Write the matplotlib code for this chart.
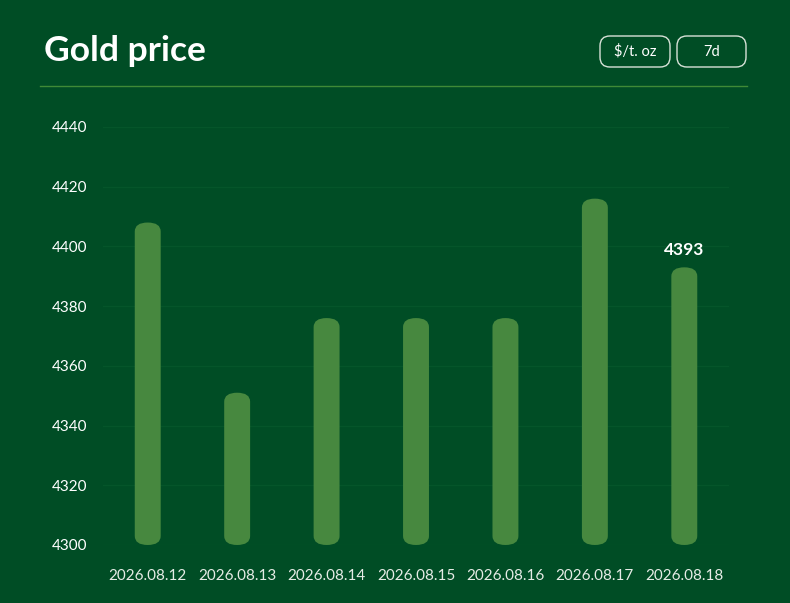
import matplotlib.pyplot as plt
from matplotlib.patches import FancyBboxPatch

# Chart data
dates = ["2026.08.12", "2026.08.13", "2026.08.14", "2026.08.15",
         "2026.08.16", "2026.08.17", "2026.08.18"]
prices = [4408, 4351, 4376, 4376, 4376, 4416, 4393]
y_ticks = [4300, 4320, 4340, 4360, 4380, 4400, 4420, 4440]
title = "Gold price"
buttons = ["$/t. oz", "7d"]

BG = "#004d25"
BAR = "#47883f"
GRID = "#05552a"
DIVIDER = "#3f8a36"

plt.rcParams['font.family'] = ['Lato', 'DejaVu Sans']

fig = plt.figure(figsize=(7.9, 6.03), dpi=100, facecolor=BG)
ax = fig.add_axes([0.1304, 0.0962, 0.7924, 0.6932])
ax.set_facecolor(BG)

ymin, ymax = y_ticks[0], y_ticks[-1]
ax.set_xlim(-0.5, len(dates) - 0.5)
ax.set_ylim(ymin, ymax)

# Rounded bars (pill shaped) drawn in data coordinates
bar_w = 0.29
r = bar_w / 2
cap = 3.0  # vertical rounding in price units
for i, p in enumerate(prices):
    patch = FancyBboxPatch((i - bar_w / 2, ymin), bar_w, p - ymin,
                           boxstyle=f"round,pad=0,rounding_size={r}",
                           mutation_aspect=cap / r,
                           facecolor=BAR, edgecolor='none', zorder=3,
                           clip_on=False)
    ax.add_patch(patch)

# Value label on the latest bar
ax.annotate(f"{prices[-1]}", xy=(len(prices) - 1, prices[-1]),
            xytext=(0, 7), textcoords='offset points',
            ha='center', va='bottom', color='white', fontsize=12.5,
            fontweight='bold', zorder=4)

ax.set_yticks(y_ticks)
ax.set_xticks(range(len(dates)))
ax.set_xticklabels(dates)
ax.tick_params(axis='y', length=0, pad=11, labelsize=11, labelcolor='white')
ax.tick_params(axis='x', length=0, pad=17, labelsize=11, labelcolor='#e6ece6')
ax.grid(axis='y', color=GRID, linewidth=1, zorder=0)
ax.set_axisbelow(True)
for s in ax.spines.values():
    s.set_visible(False)

# Header
fig.text(44 / 790, 1 - 61 / 603, title, color='white', fontsize=25.5,
         fontweight='bold', ha='left', va='baseline')
fig.add_artist(plt.Line2D([40 / 790, 747 / 790], [1 - 86 / 603, 1 - 86 / 603],
                          color=DIVIDER, linewidth=1))

btn_boxes = [(600, 670), (677, 746)]
for label, (x0, x1) in zip(buttons, btn_boxes):
    y0, y1 = 36, 67
    box = FancyBboxPatch((x0 / 790, 1 - y1 / 603), (x1 - x0) / 790, (y1 - y0) / 603,
                         boxstyle="round,pad=0,rounding_size=0.0125",
                         mutation_aspect=790 / 603,
                         transform=fig.transFigure, facecolor='none',
                         edgecolor='#d8e2d8', linewidth=1)
    fig.add_artist(box)
    fig.text((x0 + x1) / 2 / 790, 1 - (y0 + y1) / 2 / 603, label, color='white',
             fontsize=10.5, ha='center', va='center')

fig.savefig("out.png", dpi=100, facecolor=BG)
